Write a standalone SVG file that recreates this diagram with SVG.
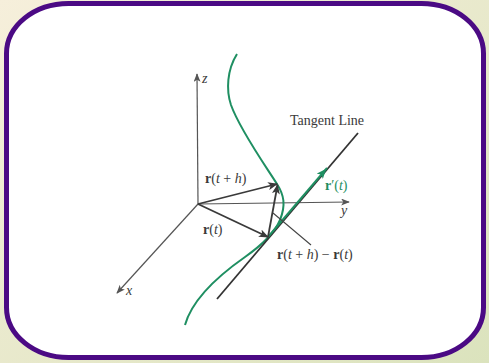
<svg xmlns="http://www.w3.org/2000/svg" width="489" height="363" viewBox="0 0 489 363">
  <defs>
    <linearGradient id="bg" x1="0" y1="0" x2="1" y2="1">
      <stop offset="0" stop-color="#f6efdb"/>
      <stop offset="1" stop-color="#dbe3bd"/>
    </linearGradient>
    <marker id="ah" viewBox="0 0 10 8" refX="9" refY="4" markerWidth="10" markerHeight="8" markerUnits="userSpaceOnUse" orient="auto">
      <path d="M0,0 L10,4 L0,8 L2.5,4 z" fill="#3a3a3a"/>
    </marker>
    <marker id="ax" viewBox="0 0 10 8" refX="9" refY="4" markerWidth="9" markerHeight="7" markerUnits="userSpaceOnUse" orient="auto">
      <path d="M0,0 L10,4 L0,8 L2.5,4 z" fill="#555"/>
    </marker>
    <marker id="ag" viewBox="0 0 10 8" refX="5" refY="4" markerWidth="10" markerHeight="8" markerUnits="userSpaceOnUse" orient="auto">
      <path d="M0,0 L10,4 L0,8 L2.5,4 z" fill="#1f8f62"/>
    </marker>
    <style>
      .t { font-family: "Liberation Serif", "Times New Roman", serif; font-size: 14px; fill: #3a3a3a; }
      .b { font-weight: bold; }
      .i { font-style: italic; }
      .axis { stroke: #555; stroke-width: 1.2; fill: none; }
      .vec { stroke: #3a3a3a; stroke-width: 1.8; fill: none; }
      .curve { stroke: #1f8f62; stroke-width: 2; fill: none; }
    </style>
  </defs>
  <rect width="489" height="363" fill="url(#bg)"/>
  <rect x="6.5" y="3.5" width="477" height="354" rx="62" ry="50" fill="#ffffff" stroke="#4b0a84" stroke-width="5"/>

  <g id="connectors">
    <g id="axes">
      <line class="axis" x1="198" y1="204" x2="197" y2="74" marker-end="url(#ax)"/>
      <line class="axis" x1="198" y1="204" x2="349" y2="202" marker-end="url(#ax)"/>
      <line class="axis" x1="198" y1="204" x2="117" y2="293" marker-end="url(#ax)"/>
    </g>
    <path id="curve" class="curve" d="M185,325 C192,300 215,278 245,257 C262,245 275,232 280,220 C286,205 284,195 277,184 C265,165 240,130 231,105 C226,90 227,70 237,54"/>
    <line id="tangent" x1="217" y1="299" x2="358" y2="133" stroke="#333" stroke-width="1.8"/>
    <line id="rprime" x1="268" y1="237" x2="327" y2="168" stroke="#1f8f62" stroke-width="2"/>
    <path d="M268,237 L323,172.5" fill="none" stroke="none" marker-end="url(#ag)"/>
    <line class="vec" x1="198" y1="204" x2="277" y2="184" marker-end="url(#ah)"/>
    <line class="vec" x1="198" y1="204" x2="268" y2="237" marker-end="url(#ah)"/>
    <line class="vec" x1="268" y1="237" x2="277.5" y2="185" marker-end="url(#ah)"/>
    <line x1="273" y1="213" x2="311" y2="245" stroke="#444" stroke-width="1.1"/>
  </g>

  <g id="labels">
    <text class="t i" x="202" y="83" font-size="11">z</text>
    <text class="t i" x="341" y="215">y</text>
    <text class="t i" x="126" y="295">x</text>
    <text class="t" x="290" y="125">Tangent Line</text>
    <text class="t" x="205" y="183"><tspan class="b">r</tspan>(<tspan class="i">t</tspan> + <tspan class="i">h</tspan>)</text>
    <text class="t" x="203" y="234"><tspan class="b">r</tspan>(<tspan class="i">t</tspan>)</text>
    <text class="t" x="277" y="259"><tspan class="b">r</tspan>(<tspan class="i">t</tspan> + <tspan class="i">h</tspan>) − <tspan class="b">r</tspan>(<tspan class="i">t</tspan>)</text>
    <text class="t" x="325" y="190" style="fill:#1f8f62"><tspan class="b">r</tspan>′(<tspan class="i">t</tspan>)</text>
  </g>
</svg>
